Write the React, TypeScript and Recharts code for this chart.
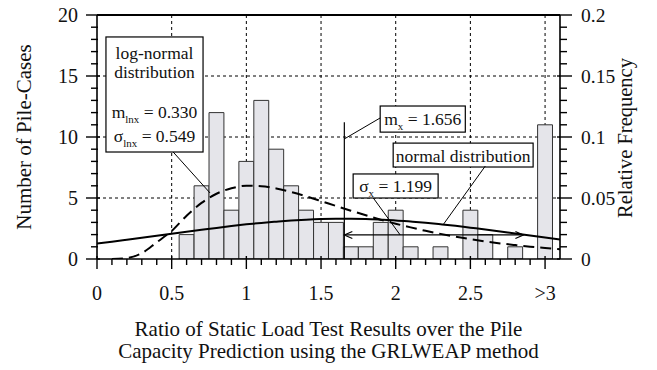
import React from 'react';
import {
  ComposedChart,
  Bar,
  Line,
  XAxis,
  YAxis,
  CartesianGrid,
  ReferenceLine,
  ReferenceArea,
  Label,
} from 'recharts';

// ---------- data ----------
const ratioBins = [
  0, 0.1, 0.2, 0.3, 0.4, 0.5, 0.6, 0.7, 0.8, 0.9, 1.0, 1.1, 1.2, 1.3, 1.4, 1.5,
  1.6, 1.7, 1.8, 1.9, 2.0, 2.1, 2.2, 2.3, 2.4, 2.5, 2.6, 2.7, 2.8, 2.9, 3.0, 3.1,
];
const pileCases = [
  null, null, null, null, null, null, 2, 6, 12, 4, 8, 13, 9, 6, 4, 3,
  3, 1, 1, 3, 4, 1, null, 1, null, 4, 2, null, 1, null, 11, null,
];
const relativeFrequency = [
  null, null, null, null, null, null, 0.02, 0.06, 0.12, 0.04, 0.08, 0.13, 0.09, 0.06, 0.04, 0.03,
  0.03, 0.01, 0.01, 0.03, 0.04, 0.01, null, 0.01, null, 0.04, 0.02, null, 0.01, null, 0.11, null,
];
const normalFit = [
  1.27, 1.42, 1.58, 1.74, 1.9, 2.07, 2.23, 2.39, 2.55, 2.7, 2.84, 2.96, 3.06, 3.15, 3.22, 3.27,
  3.29, 3.29, 3.27, 3.22, 3.16, 3.07, 2.97, 2.85, 2.72, 2.57, 2.42, 2.26, 2.09, 1.93, 1.76, 1.6,
];
const logNormalFit = [
  null, 0.0, 0.07, 0.48, 1.37, 2.3, 3.55, 4.6, 5.35, 5.8, 6.0, 5.97, 5.78, 5.49, 5.14, 4.75,
  4.35, 3.96, 3.58, 3.22, 2.89, 2.59, 2.31, 2.06, 1.83, 1.63, 1.44, 1.28, 1.14, 1.01, 0.9, 0.8,
];

const xMajorTicks = [0, 0.5, 1, 1.5, 2, 2.5, 3];
const xMajorLabels = ['0', '0.5', '1', '1.5', '2', '2.5', '>3'];
const xMinorTicks = [
  0.1, 0.2, 0.3, 0.4, 0.6, 0.7, 0.8, 0.9, 1.1, 1.2, 1.3, 1.4, 1.6, 1.7, 1.8, 1.9,
  2.1, 2.2, 2.3, 2.4, 2.6, 2.7, 2.8, 2.9,
];
const countMajorTicks = [0, 5, 10, 15, 20];
const countMajorLabels = ['0', '5', '10', '15', '20'];
const countMinorTicks = [1, 2, 3, 4, 6, 7, 8, 9, 11, 12, 13, 14, 16, 17, 18, 19];
const freqMajorTicks = [0, 0.05, 0.1, 0.15, 0.2];
const freqMajorLabels = ['0', '0.05', '0.1', '0.15', '0.2'];
const freqMinorTicks = [
  0.01, 0.02, 0.03, 0.04, 0.06, 0.07, 0.08, 0.09, 0.11, 0.12, 0.13, 0.14, 0.16, 0.17, 0.18, 0.19,
];
const gridX = [0.5, 1, 1.5, 2, 2.5, 3];
const gridY = [5, 10, 15];

const meanX = 1.656;
const sigmaX = 1.199;
const meanLnX = 0.33;
const sigmaLnX = 0.549;

const rows = ratioBins.map((r, i) => ({
  ratio: r,
  cases: pileCases[i],
  freq: relativeFrequency[i],
  normal: normalFit[i],
  lognormal: logNormalFit[i],
}));

// ---------- styling ----------
const FONT = "'Liberation Serif', 'Times New Roman', serif";
const INK = '#111';

const byNum = (a: number, b: number) => a - b;

const XTick = (props: any) => {
  const { x, y, payload } = props;
  const idx = xMajorTicks.indexOf(payload.value);
  const major = idx >= 0;
  return (
    <g>
      <line x1={x} x2={x} y1={major ? y - 3 : y} y2={y + (major ? 10 : 6)} stroke="#000" strokeWidth={1.4} />
      {major && (
        <text x={x} y={y + 41} textAnchor="middle" fontSize={20} fontFamily={FONT} fill={INK}>
          {xMajorLabels[idx]}
        </text>
      )}
    </g>
  );
};

const LeftTick = (props: any) => {
  const { x, y, payload } = props;
  const idx = countMajorTicks.indexOf(payload.value);
  const major = idx >= 0;
  return (
    <g>
      <line x1={major ? x - 11 : x - 6} x2={x + (major ? 3 : 1)} y1={y} y2={y} stroke="#000" strokeWidth={1.4} />
      {major && (
        <text x={x - 19} y={y + 7} textAnchor="end" fontSize={20} fontFamily={FONT} fill={INK}>
          {countMajorLabels[idx]}
        </text>
      )}
    </g>
  );
};

const RightTick = (props: any) => {
  const { x, y, payload } = props;
  const idx = freqMajorTicks.indexOf(payload.value);
  const major = idx >= 0;
  return (
    <g>
      <line x1={x - (major ? 3 : 0)} x2={x + (major ? 12 : 7)} y1={y} y2={y} stroke="#000" strokeWidth={1.4} />
      {major && (
        <text x={x + 21} y={y + 7} textAnchor="start" fontSize={19.5} fontFamily={FONT} fill={INK}>
          {freqMajorLabels[idx]}
        </text>
      )}
    </g>
  );
};

const XTitle = (props: any) => {
  const vb = props.viewBox || { x: 97, y: 259, width: 463, height: 111 };
  const cx = vb.x + vb.width / 2;
  return (
    <g>
      <text x={cx} y={vb.y + 77} textAnchor="middle" fontSize={21} fontFamily={FONT} fill={INK}>
        Ratio of Static Load Test Results over the Pile
      </text>
      <text x={cx} y={vb.y + 99} textAnchor="middle" fontSize={21} fontFamily={FONT} fill={INK}>
        Capacity Prediction using the GRLWEAP method
      </text>
    </g>
  );
};

const LeftTitle = (props: any) => {
  const vb = props.viewBox || { x: 0, y: 15, width: 97, height: 244 };
  const cx = vb.x + 31;
  const cy = vb.y + vb.height / 2;
  return (
    <text x={cx} y={cy} transform={`rotate(-90 ${cx} ${cy})`} textAnchor="middle" fontSize={21} fontFamily={FONT} fill={INK}>
      Number of Pile-Cases
    </text>
  );
};

const RightTitle = (props: any) => {
  const vb = props.viewBox || { x: 560, y: 15, width: 97, height: 244 };
  const cx = vb.x + 72;
  const cy = vb.y + vb.height / 2 + 1;
  return (
    <text x={cx} y={cy} transform={`rotate(-90 ${cx} ${cy})`} textAnchor="middle" fontSize={20.5} fontFamily={FONT} fill={INK}>
      Relative Frequency
    </text>
  );
};

const SubText = ({ x, y, main, sub, rest, anchor = 'middle' }: any) => (
  <text x={x} y={y} textAnchor={anchor} fontSize={17.5} fontFamily={FONT} fill={INK}>
    <tspan>{main}</tspan>
    <tspan dy={5} fontSize={11}>{sub}</tspan>
    <tspan dy={-5}>{rest}</tspan>
  </text>
);

const boxShape = (content: (x: number, y: number, w: number, h: number) => React.ReactNode) => (p: any) => {
  const { x, y, width, height } = p;
  return (
    <g>
      <rect x={x} y={y} width={width} height={height} fill="#fff" stroke="#000" strokeWidth={1.2} />
      {content(x, y, width, height)}
    </g>
  );
};

const arrowShape = (p: any) => {
  const { x1, y1, x2, y2 } = p;
  const a = 8;
  const b = 3.5;
  return (
    <g stroke="#000" strokeWidth={1.2} fill="none">
      <line x1={x1} y1={y1} x2={x2} y2={y2} />
      <path d={`M${x1 + a},${y1 - b} L${x1},${y1} L${x1 + a},${y1 + b}`} />
      <path d={`M${x2 - a},${y2 - b} L${x2},${y2} L${x2 - a},${y2 + b}`} />
    </g>
  );
};

export default function App() {
  const allX = [...xMajorTicks, ...xMinorTicks].sort(byNum);
  const allCount = [...countMajorTicks, ...countMinorTicks].sort(byNum);
  const allFreq = [...freqMajorTicks, ...freqMinorTicks].sort(byNum);

  return (
    <div style={{ position: 'absolute', left: 0, top: 0, width: 657, height: 370, background: '#fff' }}>
      <ComposedChart width={657} height={370} data={rows} margin={{ top: 15, right: 0, bottom: 0, left: 0 }}>
        <CartesianGrid
          yAxisId="left"
          horizontalValues={gridY}
          verticalValues={gridX}
          stroke="#000"
          strokeWidth={1}
          strokeDasharray="3 3"
        />
        <XAxis
          dataKey="ratio"
          type="number"
          domain={[0, 3.1]}
          allowDataOverflow
          ticks={allX}
          interval={0}
          height={111}
          tickSize={0}
          tickMargin={0}
          tickLine={false}
          tick={<XTick />}
          axisLine={{ stroke: '#000', strokeWidth: 1.6 }}
        >
          <Label content={<XTitle />} />
        </XAxis>
        <YAxis
          yAxisId="left"
          type="number"
          domain={[0, 20]}
          allowDataOverflow
          ticks={allCount}
          interval={0}
          width={97}
          tickSize={0}
          tickMargin={0}
          tickLine={false}
          tick={<LeftTick />}
          axisLine={{ stroke: '#000', strokeWidth: 1.6 }}
        >
          <Label content={<LeftTitle />} />
        </YAxis>
        <YAxis
          yAxisId="right"
          orientation="right"
          type="number"
          domain={[0, 0.2]}
          allowDataOverflow
          ticks={allFreq}
          interval={0}
          width={97}
          tickSize={0}
          tickMargin={0}
          tickLine={false}
          tick={<RightTick />}
          axisLine={{ stroke: '#000', strokeWidth: 1.6 }}
        >
          <Label content={<RightTitle />} />
        </YAxis>

        <Bar
          yAxisId="left"
          dataKey="cases"
          barSize={14.9}
          fill="#e5e5ea"
          stroke="#333"
          strokeWidth={1}
          isAnimationActive={false}
        />
        {/* the same histogram expressed as relative frequency, tied to the right axis (no visible mark) */}
        <Line
          yAxisId="right"
          dataKey="freq"
          type="linear"
          stroke="none"
          strokeOpacity={0}
          dot={false}
          activeDot={false}
          isAnimationActive={false}
        />
        <Line
          yAxisId="left"
          dataKey="lognormal"
          type="monotone"
          stroke="#000"
          strokeWidth={2}
          strokeDasharray="11 6"
          dot={false}
          activeDot={false}
          isAnimationActive={false}
        />
        <Line
          yAxisId="left"
          dataKey="normal"
          type="monotone"
          stroke="#000"
          strokeWidth={2}
          dot={false}
          activeDot={false}
          isAnimationActive={false}
        />

        <ReferenceLine yAxisId="left" y={20} stroke="#000" strokeWidth={2.2} />

        {/* mean line and sigma arrow */}
        <ReferenceLine
          yAxisId="left"
          segment={[{ x: meanX, y: 0 }, { x: meanX, y: 11.2 }]}
          stroke="#000"
          strokeWidth={1.2}
        />
        <ReferenceLine
          yAxisId="left"
          segment={[{ x: meanX, y: 1.97 }, { x: meanX + sigmaX, y: 1.97 }]}
          shape={arrowShape}
        />

        {/* leader lines */}
        <ReferenceLine yAxisId="left" segment={[{ x: 0.51, y: 8.77 }, { x: 0.757, y: 5.41 }]} stroke="#000" strokeWidth={1} />
        <ReferenceLine yAxisId="left" segment={[{ x: meanX, y: 9.84 }, { x: 1.896, y: 11.56 }]} stroke="#000" strokeWidth={1} />
        <ReferenceLine yAxisId="left" segment={[{ x: 2.6, y: 7.62 }, { x: 2.317, y: 2.8 }]} stroke="#000" strokeWidth={1} />
        <ReferenceLine yAxisId="left" segment={[{ x: 1.85, y: 5.0 }, { x: 2.03, y: 1.97 }]} stroke="#000" strokeWidth={1} />

        {/* annotation boxes */}
        <ReferenceArea
          yAxisId="left"
          x1={0.06}
          x2={0.71}
          y1={8.77}
          y2={18.2}
          shape={boxShape((x, y, w) => (
            <g>
              <text x={x + w / 2} y={y + 22} textAnchor="middle" fontSize={17.5} fontFamily={FONT} fill={INK}>log-normal</text>
              <text x={x + w / 2} y={y + 41} textAnchor="middle" fontSize={17.5} fontFamily={FONT} fill={INK}>distribution</text>
              <SubText x={x + w / 2} y={y + 81} main="m" sub="lnx" rest={` = ${meanLnX.toFixed(3)}`} />
              <SubText x={x + w / 2} y={y + 105} main="σ" sub="lnx" rest={` = ${sigmaLnX.toFixed(3)}`} />
            </g>
          ))}
        />
        <ReferenceArea
          yAxisId="left"
          x1={1.896}
          x2={2.466}
          y1={10.4}
          y2={12.54}
          shape={boxShape((x, y, w) => (
            <SubText x={x + w / 2} y={y + 19} main="m" sub="x" rest={` = ${meanX.toFixed(3)}`} />
          ))}
        />
        <ReferenceArea
          yAxisId="left"
          x1={1.983}
          x2={2.92}
          y1={7.54}
          y2={9.5}
          shape={boxShape((x, y, w) => (
            <text x={x + w / 2} y={y + 19} textAnchor="middle" fontSize={17.5} fontFamily={FONT} fill={INK}>normal distribution</text>
          ))}
        />
        <ReferenceArea
          yAxisId="left"
          x1={1.715}
          x2={2.284}
          y1={5.0}
          y2={6.97}
          shape={boxShape((x, y, w) => (
            <SubText x={x + w / 2} y={y + 18} main="σ" sub="x" rest={` = ${sigmaX.toFixed(3)}`} />
          ))}
        />
      </ComposedChart>
    </div>
  );
}
